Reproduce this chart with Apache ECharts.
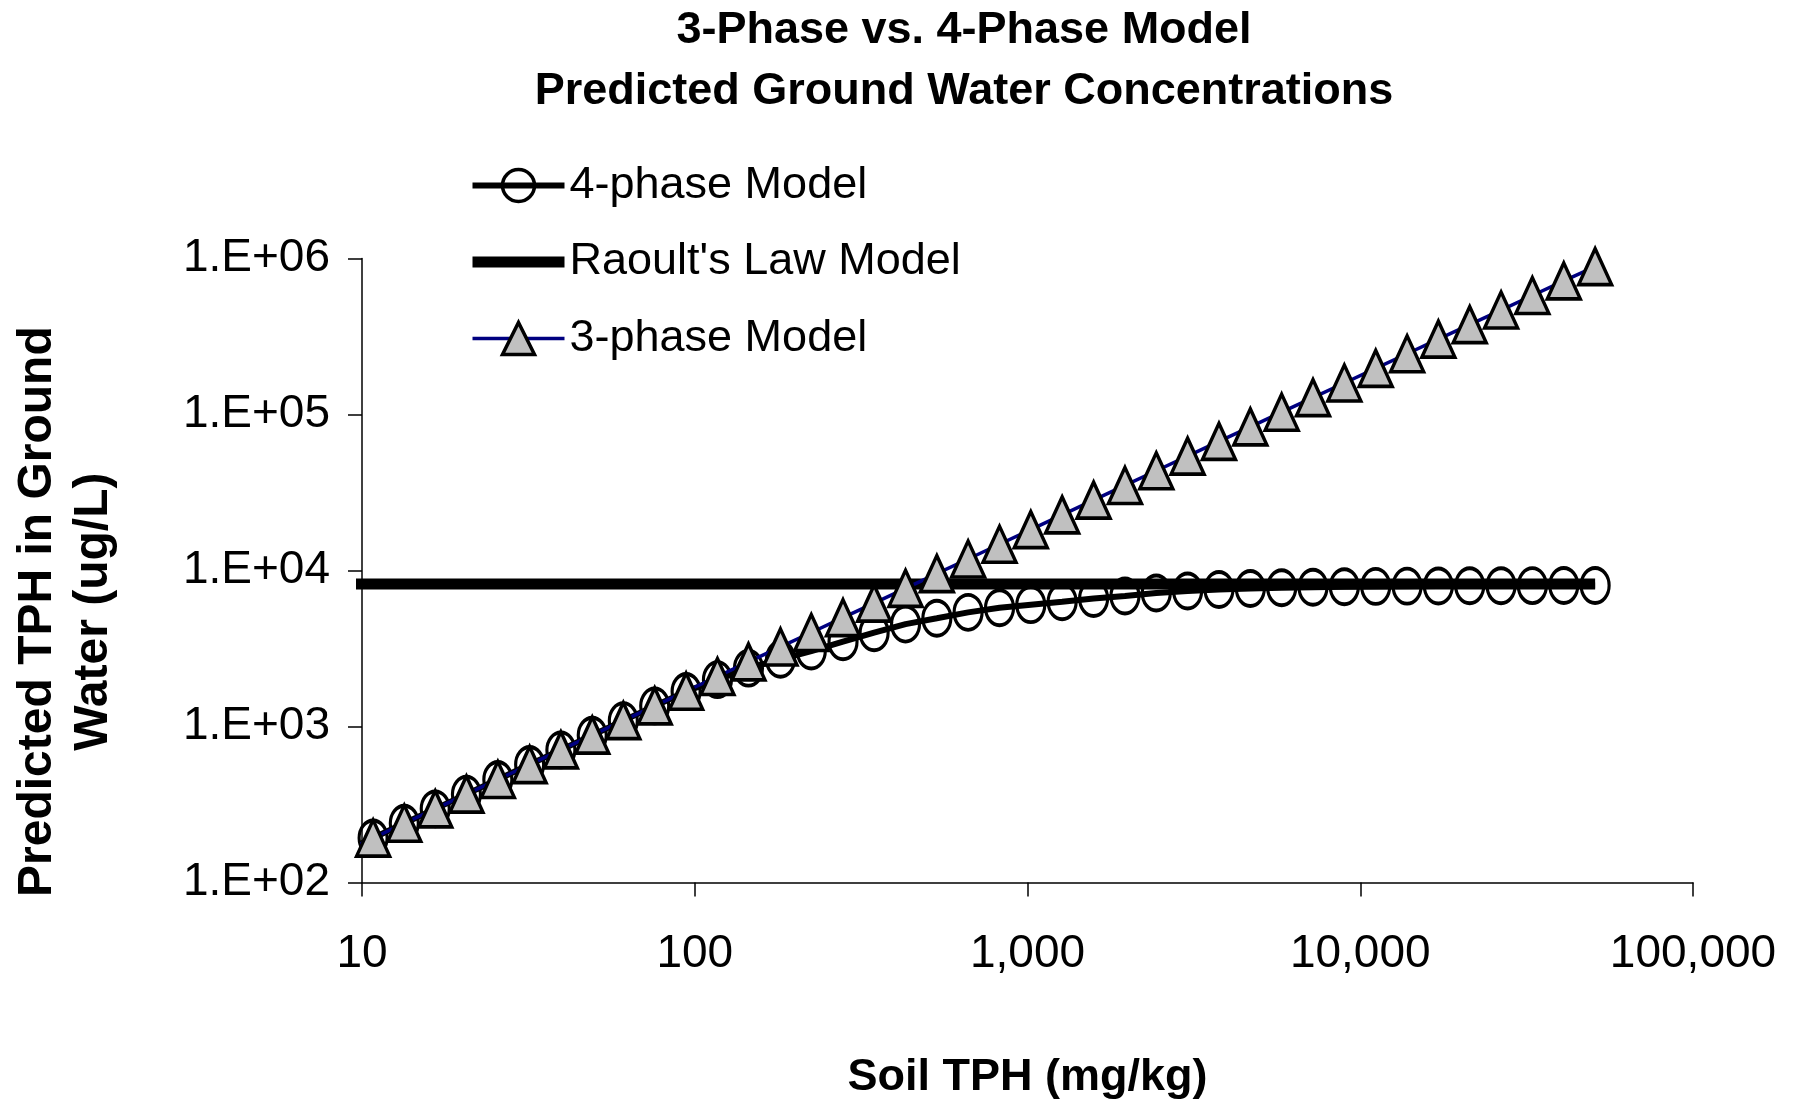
<!DOCTYPE html>
<html>
<head>
<meta charset="utf-8">
<script src="https://cdn.jsdelivr.net/npm/echarts@6/dist/echarts.min.js"></script>
<style>
html,body{margin:0;padding:0;background:#fff;}
#chart{width:1802px;height:1104px;}
</style>
</head>
<body>
<div id="chart"></div>
<script>
// ---- data ----
const soilTPH = [10.8, 13.4, 16.6, 20.6, 25.6, 31.9, 39.6, 49.2, 61.0, 75.8,
  94.2, 117, 145, 181, 224, 279, 346, 430, 534, 663,
  824, 1023, 1271, 1580, 1963, 2438, 3028, 3762, 4674, 5806,
  7211, 8958, 11130, 13830, 17170, 21330, 26500, 32900, 40900, 50800];
const threePhase = [193, 240, 297, 369, 458, 571, 709, 881, 1092, 1357,
  1686, 2094, 2600, 3240, 4010, 4990, 6190, 7700, 9560, 11870,
  14750, 18310, 22750, 28280, 35140, 43640, 54200, 67300, 83500, 103600,
  128600, 159500, 198000, 245500, 304500, 377500, 468000, 580000, 719000, 889000];
const fourPhase = [193, 240, 297, 369, 458, 571, 709, 881, 1092, 1357,
  1680, 2000, 2370, 2700, 3050, 3500, 4000, 4540, 4950, 5400,
  5780, 6050, 6320, 6620, 6870, 7180, 7400, 7560, 7680, 7760,
  7830, 7880, 7920, 7950, 7970, 7990, 8000, 8010, 8020, 8030];
// lines start just left of the y axis (no marker there)
const leadInSoil = 8.9;
const leadInGW = 159;
const raoultSoil = [8.9, 50800];
const raoultGW = [8200, 8200];

const seriesNames = ['4-phase Model', "Raoult's Law Model", '3-phase Model'];
const xTickValues = [10, 100, 1000, 10000, 100000];
const xTickLabels = ['10', '100', '1,000', '10,000', '100,000'];
const yTickValues = [100, 1000, 10000, 100000, 1000000];
const yTickLabels = ['1.E+02', '1.E+03', '1.E+04', '1.E+05', '1.E+06'];

const FONT = "'Liberation Sans', Arial, Helvetica, sans-serif";

function tickLabel(values, labels) {
  return function (v) {
    const i = Math.round(Math.log10(v)) - Math.round(Math.log10(values[0]));
    return labels[i] !== undefined ? labels[i] : '';
  };
}

function withLeadIn(ys) {
  const pts = [{ value: [leadInSoil, leadInGW], symbol: 'none' }];
  soilTPH.forEach(function (x, i) { pts.push([x, ys[i]]); });
  return pts;
}

const chart = echarts.init(document.getElementById('chart'), null, { renderer: 'canvas' });
chart.setOption({
  animation: false,
  backgroundColor: '#ffffff',
  title: {
    text: '3-Phase vs. 4-Phase Model\nPredicted Ground Water Concentrations',
    left: 964,
    top: 0,
    textAlign: 'center',
    padding: 0,
    textStyle: { fontFamily: FONT, fontSize: 45, fontWeight: 'bold', color: '#000', lineHeight: 61 }
  },
  legend: {
    orient: 'vertical',
    left: 467,
    top: 163,
    padding: 0,
    itemWidth: 92,
    itemHeight: 40,
    itemGap: 31.5,
    selectedMode: false,
    textStyle: { fontFamily: FONT, fontSize: 45, color: '#000', lineHeight: 45 },
    data: [
      { name: seriesNames[0], lineStyle: { width: 6, color: '#000' }, itemStyle: { borderWidth: 3.5, borderColor: '#000', color: 'rgba(0,0,0,0)' } },
      { name: seriesNames[1], lineStyle: { width: 11, color: '#000' }, itemStyle: { borderWidth: 0, color: 'rgba(0,0,0,0)' } },
      { name: seriesNames[2], lineStyle: { width: 3.5, color: '#000080' }, itemStyle: { borderWidth: 3.5, borderColor: '#000', color: '#C0C0C0' } }
    ]
  },
  grid: {
    left: 362, top: 258.6, right: 109, bottom: 221.4,
    containLabel: false, outerBoundsMode: 'none'
  },
  xAxis: {
    type: 'log', logBase: 10, min: 10, max: 100000,
    name: 'Soil TPH (mg/kg)', nameLocation: 'middle', nameGap: 172, nameMoveOverlap: false,
    nameTextStyle: { fontFamily: FONT, fontSize: 45, fontWeight: 'bold', color: '#000' },
    axisLine: { show: true, onZero: false, lineStyle: { color: '#000', width: 1.5 } },
    axisTick: { show: true, inside: false, length: 14, lineStyle: { color: '#000', width: 1.5 } },
    minorTick: { show: false }, splitLine: { show: false }, minorSplitLine: { show: false },
    axisLabel: { show: true, margin: 49, fontFamily: FONT, fontSize: 46, color: '#000',
      showMinLabel: true, showMaxLabel: true, hideOverlap: false,
      formatter: tickLabel(xTickValues, xTickLabels) }
  },
  yAxis: {
    type: 'log', logBase: 10, min: 100, max: 1000000,
    name: 'Predicted TPH in Ground\nWater (ug/L)', nameLocation: 'middle', nameGap: 240, nameMoveOverlap: false,
    nameTextStyle: { fontFamily: FONT, fontSize: 48, fontWeight: 'bold', color: '#000', lineHeight: 56, padding: [0, 82, 0, 0] },
    axisLine: { show: true, onZero: false, lineStyle: { color: '#000', width: 1.5 } },
    axisTick: { show: true, inside: false, length: 14, lineStyle: { color: '#000', width: 1.5 } },
    minorTick: { show: false }, splitLine: { show: false }, minorSplitLine: { show: false },
    axisLabel: { show: true, margin: 32, fontFamily: FONT, fontSize: 46, color: '#000',
      showMinLabel: true, showMaxLabel: true, hideOverlap: false,
      formatter: tickLabel(yTickValues, yTickLabels) }
  },
  series: [
    {
      name: seriesNames[0], type: 'line', clip: false, z: 2,
      data: withLeadIn(fourPhase),
      symbol: 'circle', symbolSize: [28, 35],
      itemStyle: { color: 'rgba(0,0,0,0)', borderColor: '#000', borderWidth: 3.5 },
      lineStyle: { color: '#000', width: 6 },
      emphasis: { disabled: true }
    },
    {
      name: seriesNames[1], type: 'line', clip: false, z: 3,
      data: raoultSoil.map(function (x, i) { return [x, raoultGW[i]]; }),
      symbol: 'none',
      itemStyle: { color: 'rgba(0,0,0,0)' },
      lineStyle: { color: '#000', width: 11 },
      emphasis: { disabled: true }
    },
    {
      name: seriesNames[2], type: 'line', clip: false, z: 4,
      data: withLeadIn(threePhase),
      symbol: 'triangle', symbolSize: [33, 36],
      itemStyle: { color: '#C0C0C0', borderColor: '#000', borderWidth: 3.5 },
      lineStyle: { color: '#000080', width: 3.5 },
      emphasis: { disabled: true }
    }
  ]
});
</script>
</body>
</html>
